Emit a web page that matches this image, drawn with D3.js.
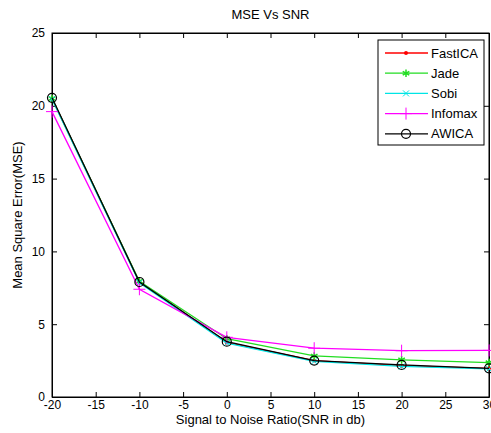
<!DOCTYPE html>
<html>
<head>
<meta charset="utf-8">
<script src="https://cdn.jsdelivr.net/npm/d3@7"></script>
<style>
	body { margin: 0; background: #fff; }
	text { font-family: "Liberation Sans", Arial, sans-serif; fill: #000; }
	.tick text { font-size: 12px; }
</style>
</head>
<body>
<svg id="chart" width="491" height="433"></svg>
<script>
	//DATA
	var snr = [-20, -10, 0, 10, 20, 30];
	var fastica = [20.5, 7.9, 3.75, 2.5, 2.15, 1.97];
	var jade = [20.5, 7.95, 4.0, 2.82, 2.55, 2.36];
	var sobi = [20.45, 7.85, 3.7, 2.45, 2.1, 1.93];
	var infomax = [19.6, 7.4, 4.1, 3.35, 3.18, 3.2];
	var awica = [20.55, 7.9, 3.8, 2.5, 2.2, 1.97];
	var xTicks = [-20, -15, -10, -5, 0, 5, 10, 15, 20, 25, 30];
	var yTicks = [0, 5, 10, 15, 20, 25];
	var seriesNames = ["FastICA", "Jade", "Sobi", "Infomax", "AWICA"];

	(function () {
		var series = [
			{ values: fastica, color: "#ff0000", marker: "dot" },
			{ values: jade, color: "#22dd22", marker: "star" },
			{ values: sobi, color: "#00e5e5", marker: "x" },
			{ values: infomax, color: "#ff00ff", marker: "plus" },
			{ values: awica, color: "#000000", marker: "circle" }
		];

		var svg = d3.select("#chart");
		var mLeft = 52, mRight = 489, mTop = 33, mBottom = 397;

		var x = d3.scaleLinear().domain([-20, 30]).range([mLeft, mRight]);
		var y = d3.scaleLinear().domain([0, 25]).range([mBottom, mTop]);
		var fmt = function (d) { return String(d); };

		// axes, ticks inward
		var xAxis = d3.axisBottom(x).tickValues(xTicks).tickSize(-5).tickPadding(8).tickSizeOuter(0).tickFormat(fmt);
		var yAxis = d3.axisLeft(y).tickValues(yTicks).tickSize(-5).tickPadding(7).tickSizeOuter(0).tickFormat(fmt);

		svg.append("g").attr("transform", "translate(0," + mBottom + ")").call(xAxis)
			.call(function (g) { g.selectAll("text").attr("dy", "0.3em"); });
		svg.append("g").attr("transform", "translate(" + mLeft + ",0)").call(yAxis);
		svg.append("g").attr("transform", "translate(0," + mTop + ")")
			.call(d3.axisTop(x).tickValues(xTicks).tickSize(-5).tickFormat("").tickSizeOuter(0));
		svg.append("g").attr("transform", "translate(" + mRight + ",0)")
			.call(d3.axisRight(y).tickValues(yTicks).tickSize(-5).tickFormat("").tickSizeOuter(0));

		svg.selectAll(".domain").attr("stroke", "#000");
		svg.selectAll(".tick line").attr("stroke", "#000");

		svg.append("rect")
			.attr("x", mLeft).attr("y", mTop)
			.attr("width", mRight - mLeft).attr("height", mBottom - mTop)
			.attr("fill", "none").attr("stroke", "#000");

		var line = d3.line()
			.x(function (d, i) { return x(snr[i]); })
			.y(function (d) { return y(d); });

		function drawMarker(g, type, cx, cy, color) {
			if (type === "dot") {
				g.append("circle").attr("cx", cx).attr("cy", cy).attr("r", 2).attr("fill", color);
			} else if (type === "circle") {
				g.append("circle").attr("cx", cx).attr("cy", cy).attr("r", 4.5)
					.attr("fill", "none").attr("stroke", color).attr("stroke-width", 1.2);
			} else if (type === "plus") {
				g.append("path").attr("d", "M" + (cx - 6) + "," + cy + "H" + (cx + 6) + "M" + cx + "," + (cy - 6) + "V" + (cy + 6))
					.attr("stroke", color).attr("stroke-width", 1);
			} else if (type === "x") {
				g.append("path").attr("d", "M" + (cx - 3) + "," + (cy - 3) + "L" + (cx + 3) + "," + (cy + 3) + "M" + (cx - 3) + "," + (cy + 3) + "L" + (cx + 3) + "," + (cy - 3))
					.attr("stroke", color).attr("stroke-width", 1);
			} else if (type === "star") {
				g.append("path").attr("d", d3.symbol().type(d3.symbolAsterisk).size(40)())
					.attr("transform", "translate(" + cx + "," + cy + ")")
					.attr("stroke", color).attr("stroke-width", 1.5).attr("fill", "none");
			}
		}

		series.forEach(function (s) {
			var g = svg.append("g");
			g.append("path")
				.attr("d", line(s.values))
				.attr("fill", "none")
				.attr("stroke", s.color)
				.attr("stroke-width", 1.3);
			s.values.forEach(function (v, i) {
				drawMarker(g, s.marker, x(snr[i]), y(v), s.color);
			});
		});

		// legend
		var lg = svg.append("g");
		lg.append("rect").attr("x", 378).attr("y", 40).attr("width", 106).attr("height", 105)
			.attr("fill", "#fff").attr("stroke", "#000");
		series.forEach(function (s, i) {
			var ly = 53 + 20.2 * i;
			lg.append("line").attr("x1", 385).attr("x2", 428).attr("y1", ly).attr("y2", ly)
				.attr("stroke", s.color).attr("stroke-width", 1.3);
			drawMarker(lg, s.marker, 406, ly, s.color);
			lg.append("text").attr("x", 431).attr("y", ly + 4.5).style("font-size", "13px").text(seriesNames[i]);
		});

		// titles
		svg.append("text").attr("x", (mLeft + mRight) / 2).attr("y", 19).attr("text-anchor", "middle")
			.style("font-size", "13px").text("MSE Vs SNR");
		svg.append("text").attr("x", (mLeft + mRight) / 2).attr("y", 424).attr("text-anchor", "middle")
			.style("font-size", "13px").text("Signal to Noise Ratio(SNR in db)");
		svg.append("text").attr("transform", "translate(22," + ((mTop + mBottom) / 2) + ") rotate(-90)")
			.attr("text-anchor", "middle").style("font-size", "13px").text("Mean Square Error(MSE)");
	})();
</script>
</body>
</html>
